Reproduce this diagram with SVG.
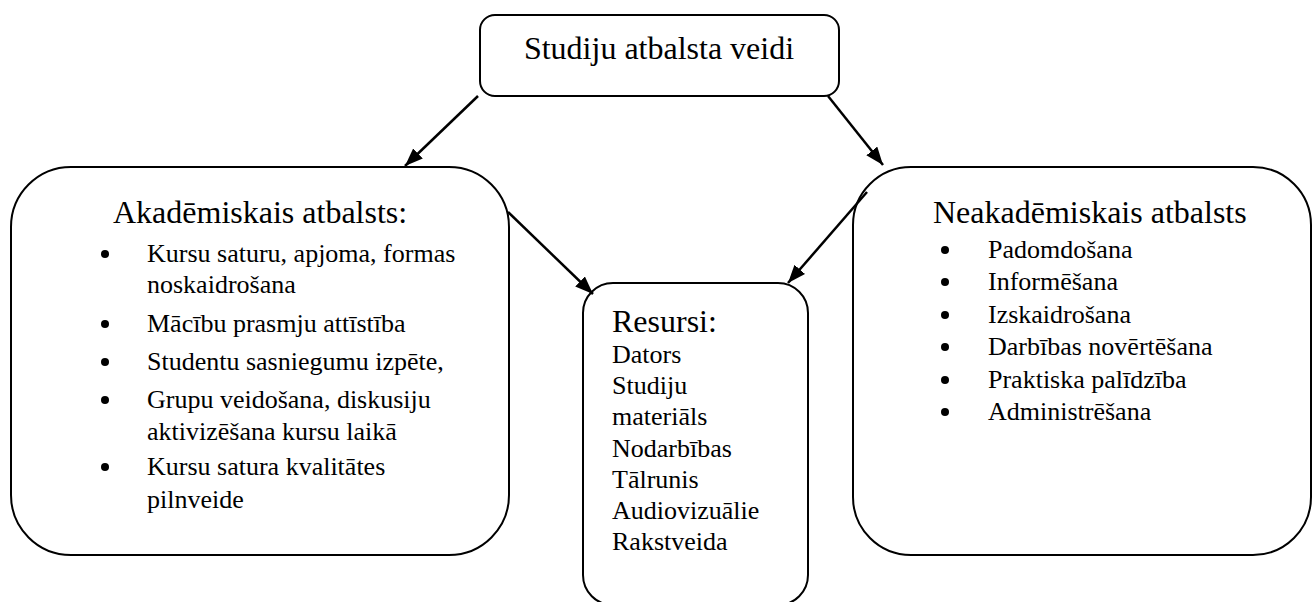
<svg xmlns="http://www.w3.org/2000/svg" width="1313" height="602" viewBox="0 0 1313 602">
<defs>
<style>
.box{fill:#fff;stroke:#000;stroke-width:2}
.h{font-family:"Liberation Serif","Times New Roman",serif;font-size:32px;fill:#000}
.t{font-family:"Liberation Serif","Times New Roman",serif;font-size:26px;fill:#000}
.b{fill:#000}
.c{stroke:#000;stroke-width:2.5;fill:none;marker-end:url(#ah)}
</style>
<marker id="ah" markerUnits="userSpaceOnUse" markerWidth="20" markerHeight="16" refX="18" refY="7" orient="auto">
<path d="M0,0 L18,7 L0,14 z" fill="#000"/>
</marker>
</defs>
<rect width="1313" height="602" fill="#fff"/>
<g id="top">
<rect class="box" x="480" y="15" width="359" height="81" rx="15"/>
<text class="h" x="659" y="59" text-anchor="middle">Studiju atbalsta veidi</text>
</g>
<g id="akademiskais">
<rect class="box" x="11" y="167" width="498" height="388" rx="60"/>
<text class="h" x="113" y="223">Akadēmiskais atbalsts:</text>
<circle class="b" cx="105" cy="254" r="4"/>
<text class="t" x="147" y="262">Kursu saturu, apjoma, formas</text>
<text class="t" x="147" y="293">noskaidrošana</text>
<circle class="b" cx="105" cy="324" r="4"/>
<text class="t" x="147" y="332">Mācību prasmju attīstība</text>
<circle class="b" cx="105" cy="362" r="4"/>
<text class="t" x="147" y="370">Studentu sasniegumu izpēte,</text>
<circle class="b" cx="105" cy="400" r="4"/>
<text class="t" x="147" y="408">Grupu veidošana, diskusiju</text>
<text class="t" x="147" y="440">aktivizēšana kursu laikā</text>
<circle class="b" cx="105" cy="467" r="4"/>
<text class="t" x="147" y="475">Kursu satura kvalitātes</text>
<text class="t" x="147" y="508">pilnveide</text>
</g>
<g id="resursi">
<rect class="box" x="583" y="283" width="225" height="322" rx="30"/>
<text class="h" x="612" y="332">Resursi:</text>
<text class="t" x="612" y="363">Dators</text>
<text class="t" x="612" y="394">Studiju</text>
<text class="t" x="612" y="425">materiāls</text>
<text class="t" x="612" y="457">Nodarbības</text>
<text class="t" x="612" y="488">Tālrunis</text>
<text class="t" x="612" y="519">Audiovizuālie</text>
<text class="t" x="612" y="550">Rakstveida</text>
</g>
<g id="neakademiskais">
<rect class="box" x="853" y="167" width="458" height="388" rx="58"/>
<text class="h" x="933" y="223">Neakadēmiskais atbalsts</text>
<circle class="b" cx="945" cy="250" r="4"/>
<text class="t" x="988" y="258">Padomdošana</text>
<circle class="b" cx="945" cy="282" r="4"/>
<text class="t" x="988" y="290">Informēšana</text>
<circle class="b" cx="945" cy="315" r="4"/>
<text class="t" x="988" y="323">Izskaidrošana</text>
<circle class="b" cx="945" cy="347" r="4"/>
<text class="t" x="988" y="355">Darbības novērtēšana</text>
<circle class="b" cx="945" cy="380" r="4"/>
<text class="t" x="988" y="388">Praktiska palīdzība</text>
<circle class="b" cx="945" cy="412" r="4"/>
<text class="t" x="988" y="420">Administrēšana</text>
</g>
<g id="connectors">
<line class="c" x1="478" y1="96" x2="405" y2="166"/>
<line class="c" x1="828" y1="96" x2="883" y2="165"/>
<line class="c" x1="508" y1="212" x2="593" y2="294"/>
<line class="c" x1="867" y1="192" x2="788" y2="283"/>
</g>
</svg>
